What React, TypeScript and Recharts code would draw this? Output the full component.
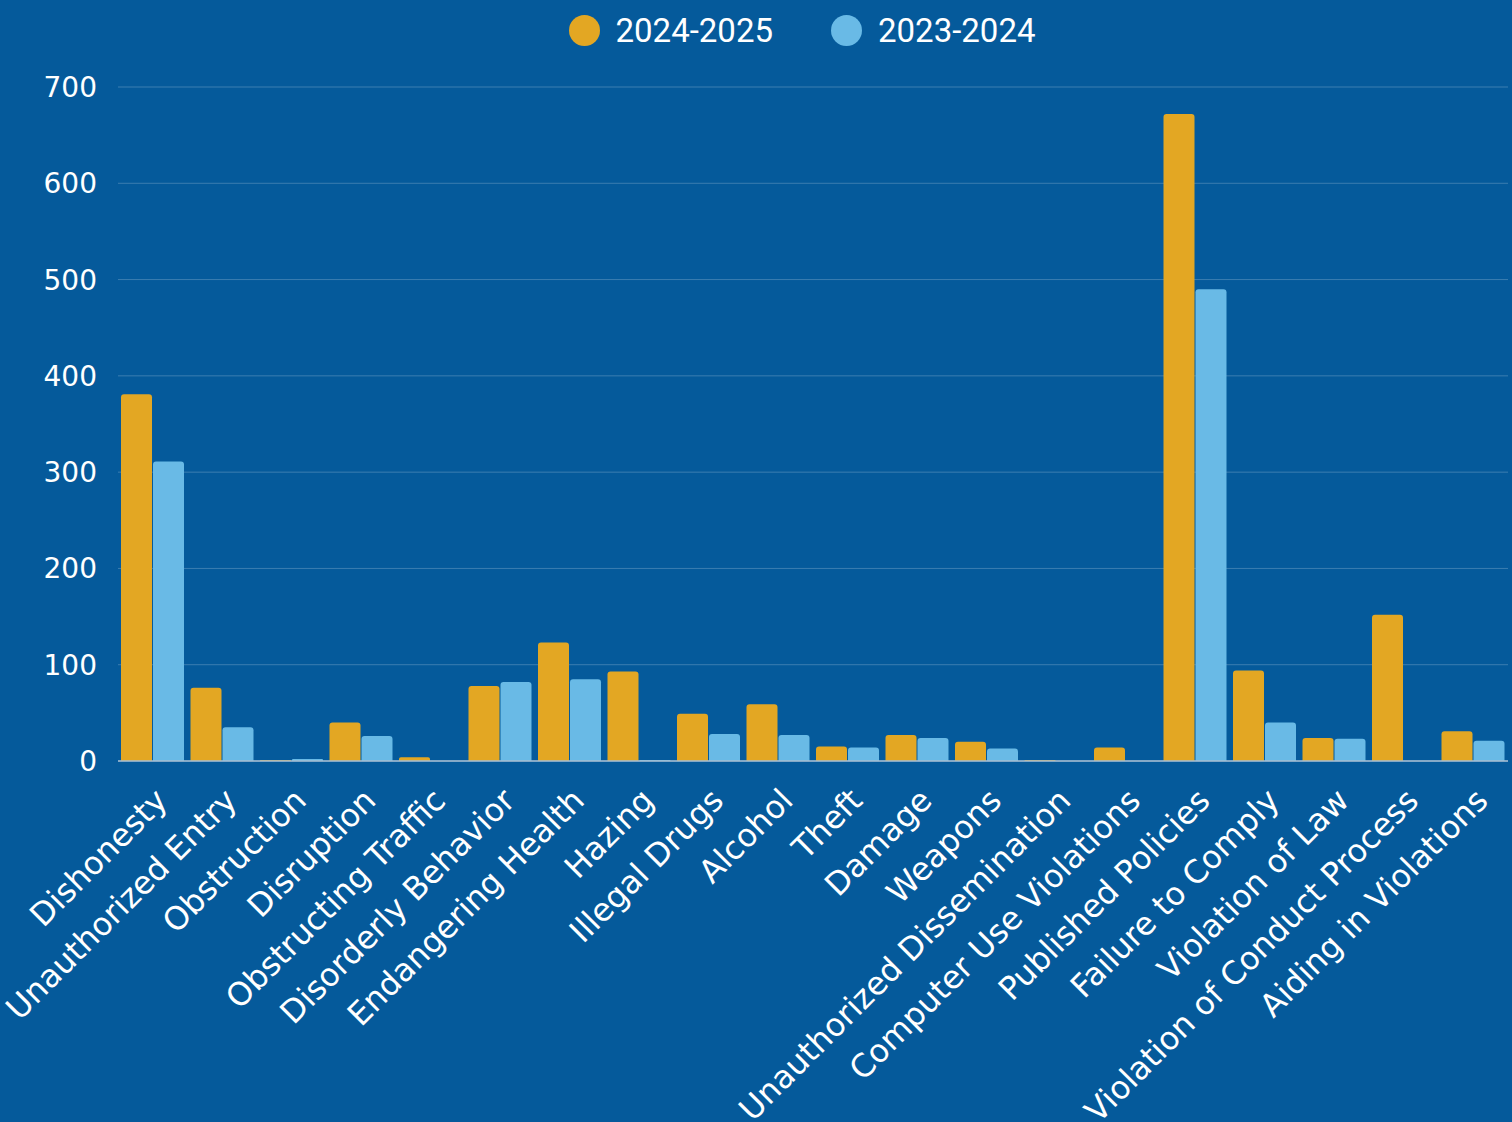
import { BarChart, Bar, XAxis, YAxis, CartesianGrid, Legend } from 'recharts'

document.body.style.margin = '0'

const categories = [
    'Dishonesty',
    'Unauthorized Entry',
    'Obstruction',
    'Disruption',
    'Obstructing Traffic',
    'Disorderly Behavior',
    'Endangering Health',
    'Hazing',
    'Illegal Drugs',
    'Alcohol',
    'Theft',
    'Damage',
    'Weapons',
    'Unauthorized Dissemination',
    'Computer Use Violations',
    'Published Policies',
    'Failure to Comply',
    'Violation of Law',
    'Violation of Conduct Process',
    'Aiding in Violations'
]

const current = [381, 76, 1, 40, 4, 78, 123, 93, 49, 59, 15, 27, 20, 1, 14, 672, 94, 24, 152, 31]
const previous = [311, 35, 2, 26, 0, 82, 85, 1, 28, 27, 14, 24, 13, 0, 0, 490, 40, 23, 0, 21]

const yTicks = [0, 100, 200, 300, 400, 500, 600, 700]

const SERIES = [
    { key: '2024-2025', color: '#E3A723' },
    { key: '2023-2024', color: '#69BAE6' }
]

const BG = '#055A9B'

const data = categories.map((name, i) => ({
    name,
    '2024-2025': current[i],
    '2023-2024': previous[i]
}))

function AngledTick(props: any) {
    const { x, y, payload } = props
    return (
        <text
            transform={`translate(${x + 4}, ${y + 29}) rotate(-45)`}
            textAnchor="end"
            dy="0.55em"
            fill="#ffffff"
            fontSize={32}
            fontFamily="'DejaVu Sans', sans-serif"
        >
            {payload.value}
        </text>
    )
}

function LegendBox() {
    return (
        <div
            style={{
                display: 'flex',
                justifyContent: 'center',
                alignItems: 'center',
                height: 60,
                width: 1512,
                paddingLeft: 92,
                boxSizing: 'border-box',
                fontFamily: 'Roboto, sans-serif'
            }}
        >
            {SERIES.map((s, i) => (
                <div key={s.key} style={{ display: 'flex', alignItems: 'center', marginLeft: i ? 58 : 0 }}>
                    <span style={{ width: 31, height: 31, borderRadius: '50%', background: s.color, display: 'inline-block' }} />
                    <span style={{ color: '#fff', fontSize: 33, marginLeft: 16, lineHeight: '33px' }}>{s.key}</span>
                </div>
            ))}
        </div>
    )
}

export default function App() {
    return (
        <div style={{ width: 1512, height: 1122, background: BG }}>
            <BarChart
                width={1512}
                height={1122}
                data={data}
                margin={{ top: 27, right: 4, left: 0, bottom: 0 }}
                barGap={1}
                barSize={31}
            >
                <CartesianGrid vertical={false} stroke="rgba(255,255,255,0.22)" />
                <XAxis
                    dataKey="name"
                    interval={0}
                    height={361}
                    tick={<AngledTick />}
                    tickLine={false}
                    tickSize={0}
                    tickMargin={0}
                    axisLine={{ stroke: '#a7bed2', strokeWidth: 1.5 }}
                />
                <YAxis
                    width={118}
                    domain={[0, 700]}
                    ticks={yTicks}
                    interval={0}
                    axisLine={false}
                    tickLine={false}
                    tickSize={0}
                    tickMargin={21}
                    tick={{ fill: '#ffffff', fontSize: 28, fontFamily: "'DejaVu Sans', sans-serif" }}
                />
                <Legend verticalAlign="top" align="center" content={<LegendBox />} wrapperStyle={{ top: 0, left: 0 }} />
                {SERIES.map(s => (
                    <Bar
                        key={s.key}
                        dataKey={s.key}
                        fill={s.color}
                        radius={[3, 3, 0, 0]}
                        isAnimationActive={false}
                    />
                ))}
            </BarChart>
        </div>
    )
}
